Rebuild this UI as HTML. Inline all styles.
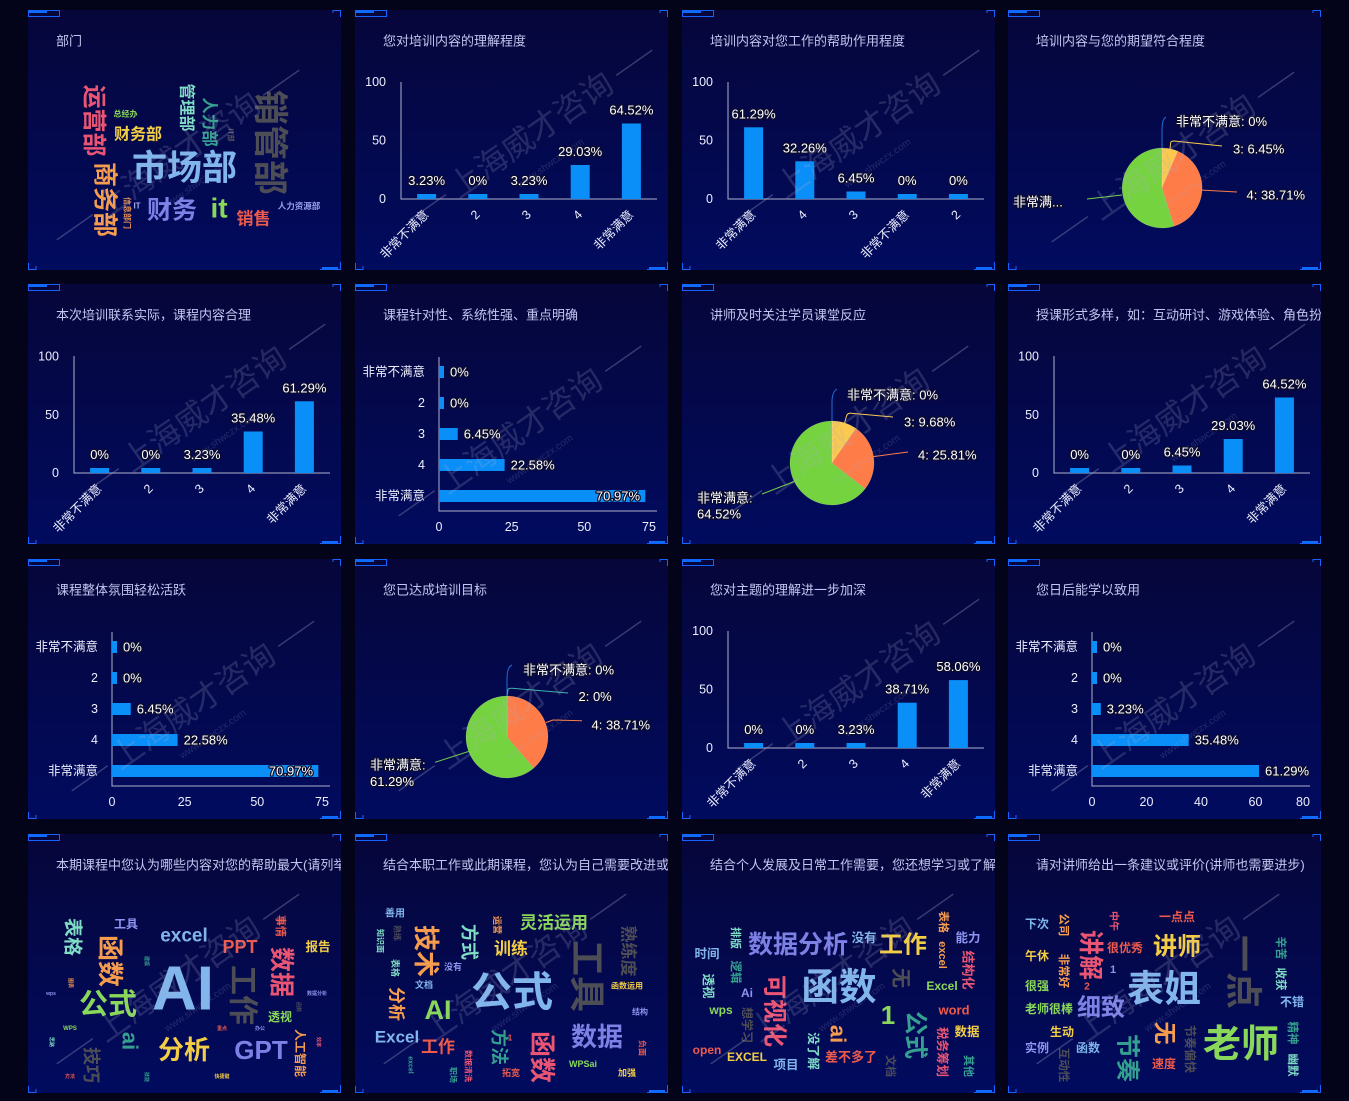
<!DOCTYPE html>
<html><head><meta charset="utf-8"><style>
html,body{margin:0;padding:0;background:#03041a;}
svg{display:block}
text{font-family:"Liberation Sans","Noto Sans CJK SC",sans-serif;}
.t{font-size:13px;fill:#c3c6f0;dominant-baseline:central}
.ax{font-size:12.5px;fill:#eceefc;dominant-baseline:central}
.ae{text-anchor:end}
.am{text-anchor:middle}
.lb{font-size:13px;fill:#fff;stroke:#0c0c2c;stroke-width:2.5px;paint-order:stroke;stroke-linejoin:round;dominant-baseline:central}
.w{font-weight:bold;text-anchor:middle;dominant-baseline:central}
.wm text{fill:rgba(175,175,210,0.2);text-anchor:middle;dominant-baseline:central}
.wm line{stroke:rgba(175,175,210,0.3);stroke-width:1.5}
.bar{fill:#0a8ff8}
.axl{stroke:#aeb2cc;stroke-width:1;fill:none}
.th{fill:none;stroke:#1763ff;stroke-width:1}
.tk{fill:#0b6cff}
</style></head><body>
<svg width="1349" height="1101" viewBox="0 0 1349 1101" xmlns="http://www.w3.org/2000/svg">
<defs>
<linearGradient id="pg" x1="0" y1="0" x2="0" y2="1"><stop offset="0" stop-color="#06063a"/><stop offset="1" stop-color="#010b5f"/></linearGradient>
<clipPath id="c24"><rect x="1008" y="284" width="313" height="260"/></clipPath>
<clipPath id="c41"><rect x="28" y="834" width="313" height="259"/></clipPath>
<clipPath id="c42"><rect x="355" y="834" width="313" height="259"/></clipPath>
<clipPath id="c43"><rect x="682" y="834" width="313" height="259"/></clipPath>
</defs>
<rect width="1349" height="1101" fill="#03041a"/>

<!-- panel backgrounds -->
<g fill="url(#pg)">
<rect x="28" y="10" width="313" height="260"/><rect x="355" y="10" width="313" height="260"/><rect x="682" y="10" width="313" height="260"/><rect x="1008" y="10" width="313" height="260"/>
<rect x="28" y="284" width="313" height="260"/><rect x="355" y="284" width="313" height="260"/><rect x="682" y="284" width="313" height="260"/><rect x="1008" y="284" width="313" height="260"/>
<rect x="28" y="559" width="313" height="260"/><rect x="355" y="559" width="313" height="260"/><rect x="682" y="559" width="313" height="260"/><rect x="1008" y="559" width="313" height="260"/>
<rect x="28" y="834" width="313" height="259"/><rect x="355" y="834" width="313" height="259"/><rect x="682" y="834" width="313" height="259"/><rect x="1008" y="834" width="313" height="259"/>
</g>

<!-- titles -->
<text class="t" x="56" y="41">部门</text>
<text class="t" x="383" y="41">您对培训内容的理解程度</text>
<text class="t" x="710" y="41">培训内容对您工作的帮助作用程度</text>
<text class="t" x="1036" y="41">培训内容与您的期望符合程度</text>
<text class="t" x="56" y="315">本次培训联系实际，课程内容合理</text>
<text class="t" x="383" y="315">课程针对性、系统性强、重点明确</text>
<text class="t" x="710" y="315">讲师及时关注学员课堂反应</text>
<text class="t" x="1036" y="315" clip-path="url(#c24)">授课形式多样，如：互动研讨、游戏体验、角色扮演等</text>
<text class="t" x="56" y="590">课程整体氛围轻松活跃</text>
<text class="t" x="383" y="590">您已达成培训目标</text>
<text class="t" x="710" y="590">您对主题的理解进一步加深</text>
<text class="t" x="1036" y="590">您日后能学以致用</text>
<text class="t" x="56" y="865" clip-path="url(#c41)">本期课程中您认为哪些内容对您的帮助最大(请列举一二)</text>
<text class="t" x="383" y="865" clip-path="url(#c42)">结合本职工作或此期课程，您认为自己需要改进或加强的方面</text>
<text class="t" x="710" y="865" clip-path="url(#c43)">结合个人发展及日常工作需要，您还想学习或了解的内容</text>
<text class="t" x="1036" y="865">请对讲师给出一条建议或评价(讲师也需要进步)</text>

<!-- R1C1 word cloud -->
<text class="w" font-size="24" fill="#ea5573" transform="translate(93.5,120.5) rotate(90)">运营部</text>
<text class="w" font-size="8" fill="#8ad85a" x="125.5" y="114">总经办</text>
<text class="w" font-size="16" fill="#f2cd45" x="138" y="135">财务部</text>
<text class="w" font-size="16" fill="#7fdcc5" transform="translate(186,107.5) rotate(90)">管理部</text>
<text class="w" font-size="16.5" fill="#35a08f" transform="translate(209,122) rotate(90)">人力部</text>
<text class="w" font-size="7" fill="#55555f" transform="translate(230,135) rotate(90)">IT部</text>
<text class="w" font-size="35" fill="#4d4d55" transform="translate(269.5,142.5) rotate(90)">销管部</text>
<text class="w" font-size="35" fill="#80b6ec" x="184.5" y="168.5">市场部</text>
<text class="w" font-size="25" fill="#f59c4e" transform="translate(104.5,199.5) rotate(90)">商务部</text>
<text class="w" font-size="8" fill="#e8904e" transform="translate(127,213) rotate(90)">信息部门</text>
<text class="w" font-size="8" fill="#a8b0f0" x="137" y="206">IT</text>
<text class="w" font-size="25" fill="#7d80e4" x="172" y="210.5">财务</text>
<text class="w" font-size="28" fill="#8ad85a" x="219" y="208">it</text>
<text class="w" font-size="17" fill="#ee5a4c" x="253.5" y="219">销售</text>
<text class="w" font-size="8.5" fill="#9aa0f0" x="299" y="206">人力资源部</text>

<!-- R1C2 vertical bar -->
<path class="axl" d="M401 82V199H657"/>
<text class="ax ae" x="386" y="82">100</text><text class="ax ae" x="386" y="140.5">50</text><text class="ax ae" x="386" y="199">0</text>
<rect class="bar" x="417.1" y="194" width="19" height="5"/><rect class="bar" x="468.3" y="194" width="19" height="5"/><rect class="bar" x="519.5" y="194" width="19" height="5"/><rect class="bar" x="570.7" y="165" width="19" height="34"/><rect class="bar" x="621.9" y="123.5" width="19" height="75.5"/>
<text class="lb am" x="426.6" y="180.5">3.23%</text><text class="lb am" x="477.8" y="180.5">0%</text><text class="lb am" x="529" y="180.5">3.23%</text><text class="lb am" x="580.2" y="151.5">29.03%</text><text class="lb am" x="631.4" y="110">64.52%</text>
<g class="ax ae" font-size="13">
<text class="ax ae" transform="translate(426.6,212.5) rotate(-45)">非常不满意</text><text class="ax ae" transform="translate(477.8,212.5) rotate(-45)">2</text><text class="ax ae" transform="translate(529,212.5) rotate(-45)">3</text><text class="ax ae" transform="translate(580.2,212.5) rotate(-45)">4</text><text class="ax ae" transform="translate(631.4,212.5) rotate(-45)">非常满意</text>
</g>

<!-- R1C3 vertical bar -->
<path class="axl" d="M728 82V199H984"/>
<text class="ax ae" x="713" y="82">100</text><text class="ax ae" x="713" y="140.5">50</text><text class="ax ae" x="713" y="199">0</text>
<rect class="bar" x="744.1" y="127.3" width="19" height="71.7"/><rect class="bar" x="795.3" y="161.3" width="19" height="37.7"/><rect class="bar" x="846.5" y="191.5" width="19" height="7.5"/><rect class="bar" x="897.7" y="194" width="19" height="5"/><rect class="bar" x="948.9" y="194" width="19" height="5"/>
<text class="lb am" x="753.6" y="114">61.29%</text><text class="lb am" x="804.8" y="148">32.26%</text><text class="lb am" x="856" y="178">6.45%</text><text class="lb am" x="907.2" y="180.5">0%</text><text class="lb am" x="958.4" y="180.5">0%</text>
<text class="ax ae" transform="translate(753.6,212.5) rotate(-45)">非常满意</text><text class="ax ae" transform="translate(804.8,212.5) rotate(-45)">4</text><text class="ax ae" transform="translate(856,212.5) rotate(-45)">3</text><text class="ax ae" transform="translate(907.2,212.5) rotate(-45)">非常不满意</text><text class="ax ae" transform="translate(958.4,212.5) rotate(-45)">2</text>

<!-- R1C4 pie -->
<path d="M1162 188L1162 148A40 40 0 0 1 1177.8 151.2Z" fill="#fbc94d" stroke="rgba(255,255,255,0.25)" stroke-width="0.5"/>
<path d="M1162 188L1177.8 151.2A40 40 0 0 1 1174 226.2Z" fill="#fe7c47" stroke="rgba(255,255,255,0.25)" stroke-width="0.5"/>
<path d="M1162 188L1174 226.2A40 40 0 1 1 1162 148Z" fill="#75d33f" stroke="rgba(255,255,255,0.25)" stroke-width="0.5"/>
<path d="M1162 148V130Q1162 119 1166 117" fill="none" stroke="#1f6fd6"/>
<path d="M1170 149L1170.7 142.5Q1171 141 1174 141L1222 146" fill="none" stroke="#fbc94d"/>
<path d="M1200 190L1237 192" fill="none" stroke="#fe7c47"/>
<path d="M1122 195L1087 199" fill="none" stroke="#75d33f"/>
<text class="lb" x="1176" y="121.5">非常不满意: 0%</text>
<text class="lb" x="1233" y="149">3: 6.45%</text>
<text class="lb" x="1246.5" y="195">4: 38.71%</text>
<text class="lb" x="1013" y="202">非常满...</text>

<!-- R2C1 vertical bar -->
<path class="axl" d="M74 356V473H330"/>
<text class="ax ae" x="59" y="356.5">100</text><text class="ax ae" x="59" y="415">50</text><text class="ax ae" x="59" y="473">0</text>
<rect class="bar" x="90.1" y="468" width="19" height="5"/><rect class="bar" x="141.3" y="468" width="19" height="5"/><rect class="bar" x="192.5" y="468" width="19" height="5"/><rect class="bar" x="243.7" y="431.5" width="19" height="41.5"/><rect class="bar" x="294.9" y="401.3" width="19" height="71.7"/>
<text class="lb am" x="99.6" y="454.5">0%</text><text class="lb am" x="150.8" y="454.5">0%</text><text class="lb am" x="202" y="454.5">3.23%</text><text class="lb am" x="253.2" y="418">35.48%</text><text class="lb am" x="304.4" y="388">61.29%</text>
<text class="ax ae" transform="translate(99.6,486.5) rotate(-45)">非常不满意</text><text class="ax ae" transform="translate(150.8,486.5) rotate(-45)">2</text><text class="ax ae" transform="translate(202,486.5) rotate(-45)">3</text><text class="ax ae" transform="translate(253.2,486.5) rotate(-45)">4</text><text class="ax ae" transform="translate(304.4,486.5) rotate(-45)">非常满意</text>

<!-- R2C2 horizontal bar -->
<path class="axl" d="M439 357V511H657"/>
<text class="ax ae" x="425" y="372">非常不满意</text><text class="ax ae" x="425" y="403">2</text><text class="ax ae" x="425" y="434">3</text><text class="ax ae" x="425" y="465">4</text><text class="ax ae" x="425" y="496">非常满意</text>
<rect class="bar" x="439" y="366" width="5" height="12"/><rect class="bar" x="439" y="397" width="5" height="12"/><rect class="bar" x="439" y="428" width="18.75" height="12"/><rect class="bar" x="439" y="459" width="65.6" height="12"/><rect class="bar" x="439" y="490" width="206.3" height="12"/>
<text class="lb" x="450" y="372">0%</text><text class="lb" x="450" y="403">0%</text><text class="lb" x="463.7" y="434">6.45%</text><text class="lb" x="510.6" y="465">22.58%</text><text class="lb ae" x="640" y="496">70.97%</text>
<text class="ax am" x="439" y="527">0</text><text class="ax am" x="511.7" y="527">25</text><text class="ax am" x="584.3" y="527">50</text><text class="ax am" x="649" y="527">75</text>

<!-- R2C3 pie -->
<path d="M832 463L832 421A42 42 0 0 1 856 428.5Z" fill="#fbc94d" stroke="rgba(255,255,255,0.25)" stroke-width="0.5"/>
<path d="M832 463L856 428.5A42 42 0 0 1 865.2 488.7Z" fill="#fe7c47" stroke="rgba(255,255,255,0.25)" stroke-width="0.5"/>
<path d="M832 463L865.2 488.7A42 42 0 1 1 832 421Z" fill="#75d33f" stroke="rgba(255,255,255,0.25)" stroke-width="0.5"/>
<path d="M832 421V402Q832 392 837 389" fill="none" stroke="#1f6fd6"/>
<path d="M844.6 423L846.5 416Q847.5 413 851 413.2L893 417" fill="none" stroke="#fbc94d"/>
<path d="M873.5 456.6L908 452" fill="none" stroke="#fe7c47"/>
<path d="M794.3 481.5L762 494" fill="none" stroke="#75d33f"/>
<text class="lb" x="847" y="395">非常不满意: 0%</text>
<text class="lb" x="904" y="422">3: 9.68%</text>
<text class="lb" x="918" y="455">4: 25.81%</text>
<text class="lb" x="697" y="498">非常满意:</text>
<text class="lb" x="697" y="514">64.52%</text>

<!-- R2C4 vertical bar -->
<path class="axl" d="M1054 356V473H1310"/>
<text class="ax ae" x="1039" y="356.5">100</text><text class="ax ae" x="1039" y="415">50</text><text class="ax ae" x="1039" y="473">0</text>
<rect class="bar" x="1070.1" y="468" width="19" height="5"/><rect class="bar" x="1121.3" y="468" width="19" height="5"/><rect class="bar" x="1172.5" y="465.5" width="19" height="7.5"/><rect class="bar" x="1223.7" y="439" width="19" height="34"/><rect class="bar" x="1274.9" y="397.5" width="19" height="75.5"/>
<text class="lb am" x="1079.6" y="454.5">0%</text><text class="lb am" x="1130.8" y="454.5">0%</text><text class="lb am" x="1182" y="452">6.45%</text><text class="lb am" x="1233.2" y="425.5">29.03%</text><text class="lb am" x="1284.4" y="384">64.52%</text>
<text class="ax ae" transform="translate(1079.6,486.5) rotate(-45)">非常不满意</text><text class="ax ae" transform="translate(1130.8,486.5) rotate(-45)">2</text><text class="ax ae" transform="translate(1182,486.5) rotate(-45)">3</text><text class="ax ae" transform="translate(1233.2,486.5) rotate(-45)">4</text><text class="ax ae" transform="translate(1284.4,486.5) rotate(-45)">非常满意</text>

<!-- R3C1 horizontal bar -->
<path class="axl" d="M112 632V786H330"/>
<text class="ax ae" x="98" y="647">非常不满意</text><text class="ax ae" x="98" y="678">2</text><text class="ax ae" x="98" y="709">3</text><text class="ax ae" x="98" y="740">4</text><text class="ax ae" x="98" y="771">非常满意</text>
<rect class="bar" x="112" y="641" width="5" height="12"/><rect class="bar" x="112" y="672" width="5" height="12"/><rect class="bar" x="112" y="703" width="18.75" height="12"/><rect class="bar" x="112" y="734" width="65.6" height="12"/><rect class="bar" x="112" y="765" width="206.3" height="12"/>
<text class="lb" x="123" y="647">0%</text><text class="lb" x="123" y="678">0%</text><text class="lb" x="136.7" y="709">6.45%</text><text class="lb" x="183.6" y="740">22.58%</text><text class="lb ae" x="313" y="771">70.97%</text>
<text class="ax am" x="112" y="802">0</text><text class="ax am" x="184.7" y="802">25</text><text class="ax am" x="257.3" y="802">50</text><text class="ax am" x="322" y="802">75</text>

<!-- R3C2 pie -->
<path d="M507 737L507 696A41 41 0 0 1 533.7 768.1Z" fill="#fe7c47" stroke="rgba(255,255,255,0.25)" stroke-width="0.5"/>
<path d="M507 737L533.7 768.1A41 41 0 1 1 507 696Z" fill="#75d33f" stroke="rgba(255,255,255,0.25)" stroke-width="0.5"/>
<path d="M507 696V679Q507 667 512 665" fill="none" stroke="#1f6fd6"/>
<path d="M507 696L508 689.5Q508.5 688 512 688.3L568 693" fill="none" stroke="#3bb5b0"/>
<path d="M546 722.5L553 720L582 720.7" fill="none" stroke="#fe7c47"/>
<path d="M468.5 751.5L435 762.3" fill="none" stroke="#75d33f"/>
<text class="lb" x="523" y="670">非常不满意: 0%</text>
<text class="lb" x="578.5" y="696.5">2: 0%</text>
<text class="lb" x="591.5" y="725">4: 38.71%</text>
<text class="lb" x="370" y="765">非常满意:</text>
<text class="lb" x="370" y="781.5">61.29%</text>

<!-- R3C3 vertical bar -->
<path class="axl" d="M728 631V748H984"/>
<text class="ax ae" x="713" y="631">100</text><text class="ax ae" x="713" y="689.5">50</text><text class="ax ae" x="713" y="748">0</text>
<rect class="bar" x="744.1" y="743" width="19" height="5"/><rect class="bar" x="795.3" y="743" width="19" height="5"/><rect class="bar" x="846.5" y="743" width="19" height="5"/><rect class="bar" x="897.7" y="702.7" width="19" height="45.3"/><rect class="bar" x="948.9" y="680.1" width="19" height="67.9"/>
<text class="lb am" x="753.6" y="729.5">0%</text><text class="lb am" x="804.8" y="729.5">0%</text><text class="lb am" x="856" y="729.5">3.23%</text><text class="lb am" x="907.2" y="689">38.71%</text><text class="lb am" x="958.4" y="666.5">58.06%</text>
<text class="ax ae" transform="translate(753.6,761.5) rotate(-45)">非常不满意</text><text class="ax ae" transform="translate(804.8,761.5) rotate(-45)">2</text><text class="ax ae" transform="translate(856,761.5) rotate(-45)">3</text><text class="ax ae" transform="translate(907.2,761.5) rotate(-45)">4</text><text class="ax ae" transform="translate(958.4,761.5) rotate(-45)">非常满意</text>

<!-- R3C4 horizontal bar -->
<path class="axl" d="M1092 632V786H1310"/>
<text class="ax ae" x="1078" y="647">非常不满意</text><text class="ax ae" x="1078" y="678">2</text><text class="ax ae" x="1078" y="709">3</text><text class="ax ae" x="1078" y="740">4</text><text class="ax ae" x="1078" y="771">非常满意</text>
<rect class="bar" x="1092" y="641" width="5" height="12"/><rect class="bar" x="1092" y="672" width="5" height="12"/><rect class="bar" x="1092" y="703" width="8.8" height="12"/><rect class="bar" x="1092" y="734" width="96.7" height="12"/><rect class="bar" x="1092" y="765" width="167" height="12"/>
<text class="lb" x="1103" y="647">0%</text><text class="lb" x="1103" y="678">0%</text><text class="lb" x="1106.8" y="709">3.23%</text><text class="lb" x="1194.7" y="740">35.48%</text><text class="lb" x="1265" y="771">61.29%</text>
<text class="ax am" x="1092" y="802">0</text><text class="ax am" x="1146.5" y="802">20</text><text class="ax am" x="1201" y="802">40</text><text class="ax am" x="1255.5" y="802">60</text><text class="ax am" x="1303" y="802">80</text>

<!-- R4C1 word cloud -->
<g clip-path="url(#c41)">
<text class="w" font-size="19" fill="#7fdcc5" transform="translate(72,937) rotate(90)">表格</text>
<text class="w" font-size="12" fill="#8f94f0" x="126" y="924">工具</text>
<text class="w" font-size="19" fill="#80b6ec" x="184" y="936">excel</text>
<text class="w" font-size="18" fill="#ee5a4c" x="240" y="947">PPT</text>
<text class="w" font-size="26" fill="#f59c4e" transform="translate(110,961) rotate(90)">函数</text>
<text class="w" font-size="62" fill="#80b6ec" x="183" y="989">AI</text>
<text class="w" font-size="30" fill="#4d4d55" transform="translate(242,995) rotate(90)">工作</text>
<text class="w" font-size="25" fill="#ea5573" transform="translate(281,972) rotate(90)">数据</text>
<text class="w" font-size="11" fill="#ee5a4c" transform="translate(280,926) rotate(90)">事情</text>
<text class="w" font-size="12.5" fill="#f2cd45" x="318" y="947">报告</text>
<text class="w" font-size="29" fill="#8ad85a" x="108" y="1005">公式</text>
<text class="w" font-size="12" fill="#8ad85a" x="280" y="1017">透视</text>
<text class="w" font-size="22" fill="#35a08f" transform="translate(130,1041) rotate(90)">ai</text>
<text class="w" font-size="26" fill="#f2cd45" x="184" y="1050">分析</text>
<text class="w" font-size="26" fill="#7d80e4" x="261" y="1050">GPT</text>
<text class="w" font-size="12" fill="#f59c4e" transform="translate(300,1053) rotate(90)">人工智能</text>
<text class="w" font-size="18" fill="#4d4d55" transform="translate(91,1065) rotate(90)">技巧</text>
<text class="w" font-size="5" fill="#8f94f0" x="51" y="994">wps</text>
<text class="w" font-size="6" fill="#8ad85a" x="70" y="1029">WPS</text>
<text class="w" font-size="5" fill="#ee5a4c" x="222" y="1029">重点</text>
<text class="w" font-size="5" fill="#8f94f0" x="260" y="1029">办公</text>
<text class="w" font-size="5" fill="#8f94f0" x="317" y="994">数据分析</text>
<text class="w" font-size="5" fill="#35a08f" transform="translate(146,961) rotate(90)">建模</text>
<text class="w" font-size="5" fill="#f59c4e" transform="translate(70,983) rotate(90)">图表</text>
<text class="w" font-size="5" fill="#7fdcc5" transform="translate(51,1042) rotate(90)">思路</text>
<text class="w" font-size="5" fill="#ea5573" transform="translate(318,1042) rotate(90)">效率</text>
<text class="w" font-size="5" fill="#ee5a4c" x="70" y="1077">方法</text>
<text class="w" font-size="5" fill="#35a08f" transform="translate(146,1077) rotate(90)">技能</text>
<text class="w" font-size="5" fill="#f2cd45" x="222" y="1077">快捷键</text>
<text class="w" font-size="5" fill="#4d4d55" transform="translate(298,1007) rotate(90)">函数</text>
</g>

<!-- R4C2 word cloud -->
<g clip-path="url(#c42)">
<text class="w" font-size="10" fill="#80b6ec" x="395" y="914">善用</text>
<text class="w" font-size="8" fill="#7fdcc5" transform="translate(380,941) rotate(90)">知识面</text>
<text class="w" font-size="8" fill="#4d4d55" transform="translate(397,933) rotate(90)">熟练</text>
<text class="w" font-size="26" fill="#f59c4e" transform="translate(426,951) rotate(90)">技术</text>
<text class="w" font-size="18" fill="#7fdcc5" transform="translate(469,942) rotate(90)">方式</text>
<text class="w" font-size="9" fill="#f59c4e" transform="translate(497,925) rotate(90)">运营</text>
<text class="w" font-size="17" fill="#8ad85a" x="554" y="923">灵活运用</text>
<text class="w" font-size="17" fill="#4d4d55" transform="translate(628,951) rotate(90)">熟练度</text>
<text class="w" font-size="17" fill="#f2cd45" x="511" y="949">训练</text>
<text class="w" font-size="9" fill="#7fdcc5" transform="translate(395,968) rotate(90)">表格</text>
<text class="w" font-size="9" fill="#8f94f0" x="453" y="967">没有</text>
<text class="w" font-size="9" fill="#80b6ec" x="424" y="985">文档</text>
<text class="w" font-size="36" fill="#4d4d55" transform="translate(587,976) rotate(90)">工具</text>
<text class="w" font-size="41" fill="#80b6ec" x="512" y="992">公式</text>
<text class="w" font-size="17" fill="#f59c4e" transform="translate(396,1004) rotate(90)">分析</text>
<text class="w" font-size="8" fill="#f2cd45" x="627" y="986">函数运用</text>
<text class="w" font-size="27" fill="#8ad85a" x="438" y="1010">AI</text>
<text class="w" font-size="8" fill="#8f94f0" x="640" y="1012">结构</text>
<text class="w" font-size="17" fill="#80b6ec" x="397" y="1037">Excel</text>
<text class="w" font-size="17" fill="#ee5a4c" x="438" y="1047">工作</text>
<text class="w" font-size="18" fill="#35a08f" transform="translate(499,1047) rotate(90)">方法</text>
<text class="w" font-size="8" fill="#ee5a4c" x="510" y="1038">1</text>
<text class="w" font-size="26" fill="#7d80e4" x="597" y="1037">数据</text>
<text class="w" font-size="26" fill="#ea5573" transform="translate(542,1057) rotate(90)">函数</text>
<text class="w" font-size="8" fill="#ee5a4c" transform="translate(642,1048) rotate(90)">负面</text>
<text class="w" font-size="7" fill="#35a08f" transform="translate(410,1065) rotate(90)">excel</text>
<text class="w" font-size="8" fill="#ea5573" transform="translate(468,1066) rotate(90)">数据清洗</text>
<text class="w" font-size="8" fill="#35a08f" transform="translate(453,1075) rotate(90)">职场</text>
<text class="w" font-size="9" fill="#ee5a4c" x="511" y="1073">拓宽</text>
<text class="w" font-size="9" fill="#8ad85a" x="583" y="1064">WPSai</text>
<text class="w" font-size="9" fill="#f2cd45" x="627" y="1073">加强</text>
</g>

<!-- R4C3 word cloud -->
<g clip-path="url(#c43)">
<text class="w" font-size="25" fill="#7d80e4" x="798" y="945">数据分析</text>
<text class="w" font-size="12.5" fill="#80b6ec" x="864" y="938">没有</text>
<text class="w" font-size="24" fill="#f2cd45" x="903" y="945">工作</text>
<text class="w" font-size="11" fill="#f59c4e" transform="translate(943,922) rotate(90)">表格</text>
<text class="w" font-size="11" fill="#f59c4e" transform="translate(942,955) rotate(90)">excel</text>
<text class="w" font-size="12.5" fill="#8f94f0" x="968" y="938">能力</text>
<text class="w" font-size="13" fill="#ea5573" transform="translate(968,970) rotate(90)">结构化</text>
<text class="w" font-size="12.5" fill="#80b6ec" x="707" y="954">时间</text>
<text class="w" font-size="11" fill="#7fdcc5" transform="translate(735,938) rotate(90)">排版</text>
<text class="w" font-size="11.5" fill="#35a08f" transform="translate(735,972) rotate(90)">逻辑</text>
<text class="w" font-size="37.5" fill="#80b6ec" x="839" y="987">函数</text>
<text class="w" font-size="24" fill="#ea5573" transform="translate(774,1011) rotate(90)">可视化</text>
<text class="w" font-size="20" fill="#4d4d55" transform="translate(900,978) rotate(90)">无</text>
<text class="w" font-size="12" fill="#8ad85a" x="942" y="986">Excel</text>
<text class="w" font-size="12.5" fill="#7fdcc5" transform="translate(708,986) rotate(90)">透视</text>
<text class="w" font-size="12" fill="#8f94f0" x="747" y="993">Ai</text>
<text class="w" font-size="12" fill="#8ad85a" x="721" y="1010">wps</text>
<text class="w" font-size="12" fill="#4d4d55" transform="translate(747,1025) rotate(90)">想学习</text>
<text class="w" font-size="26" fill="#8ad85a" x="888" y="1015">1</text>
<text class="w" font-size="24" fill="#35a08f" transform="translate(915,1035) rotate(90)">公式</text>
<text class="w" font-size="13" fill="#ee5a4c" x="954" y="1010">word</text>
<text class="w" font-size="12.5" fill="#ea5573" transform="translate(942,1052) rotate(90)">税务筹划</text>
<text class="w" font-size="12.5" fill="#f2cd45" x="967" y="1032">数据</text>
<text class="w" font-size="22" fill="#f59c4e" transform="translate(838,1034) rotate(90)">ai</text>
<text class="w" font-size="12.5" fill="#7fdcc5" transform="translate(813,1051) rotate(90)">没了解</text>
<text class="w" font-size="12" fill="#ee5a4c" x="707" y="1050">open</text>
<text class="w" font-size="12" fill="#f2cd45" x="747" y="1057">EXCEL</text>
<text class="w" font-size="12.5" fill="#80b6ec" x="786" y="1065">项目</text>
<text class="w" font-size="13" fill="#ee5a4c" x="851" y="1057">差不多了</text>
<text class="w" font-size="11" fill="#4d4d55" transform="translate(890,1066) rotate(90)">文档</text>
<text class="w" font-size="11" fill="#35a08f" transform="translate(968,1066) rotate(90)">其他</text>
</g>

<!-- R4C4 word cloud -->
<text class="w" font-size="12" fill="#80b6ec" x="1037" y="924">下次</text>
<text class="w" font-size="11.5" fill="#f59c4e" transform="translate(1063,925) rotate(90)">公司</text>
<text class="w" font-size="10" fill="#ea5573" transform="translate(1113,921) rotate(90)">中午</text>
<text class="w" font-size="12" fill="#ee5a4c" x="1177" y="917">一点点</text>
<text class="w" font-size="25" fill="#ea5573" transform="translate(1090,955) rotate(90)">讲解</text>
<text class="w" font-size="12" fill="#ee5a4c" x="1125" y="948">很优秀</text>
<text class="w" font-size="24" fill="#f2cd45" x="1177" y="947">讲师</text>
<text class="w" font-size="37" fill="#4d4d55" transform="translate(1243,972) rotate(90)">一点</text>
<text class="w" font-size="11.5" fill="#35a08f" transform="translate(1280,948) rotate(90)">辛苦</text>
<text class="w" font-size="12" fill="#f2cd45" x="1037" y="956">午休</text>
<text class="w" font-size="11.5" fill="#f59c4e" transform="translate(1063,971) rotate(90)">非常好</text>
<text class="w" font-size="11" fill="#8f94f0" x="1113" y="970">1</text>
<text class="w" font-size="10" fill="#ee5a4c" x="1087" y="987">2</text>
<text class="w" font-size="37" fill="#80b6ec" x="1164" y="989">表姐</text>
<text class="w" font-size="11.5" fill="#7fdcc5" transform="translate(1280,979) rotate(90)">收获</text>
<text class="w" font-size="12" fill="#8ad85a" x="1037" y="986">很强</text>
<text class="w" font-size="24" fill="#7d80e4" x="1101" y="1008">细致</text>
<text class="w" font-size="12" fill="#80b6ec" x="1292" y="1002">不错</text>
<text class="w" font-size="12" fill="#8ad85a" x="1049" y="1009">老师很棒</text>
<text class="w" font-size="23" fill="#f59c4e" transform="translate(1165,1033) rotate(90)">无</text>
<text class="w" font-size="12" fill="#4d4d55" transform="translate(1190,1049) rotate(90)">节奏偏快</text>
<text class="w" font-size="12" fill="#f2cd45" x="1062" y="1032">生动</text>
<text class="w" font-size="38" fill="#8ad85a" x="1241" y="1045">老师</text>
<text class="w" font-size="11.5" fill="#35a08f" transform="translate(1292,1033) rotate(90)">精神</text>
<text class="w" font-size="24" fill="#35a08f" transform="translate(1127,1058) rotate(90)">节奏</text>
<text class="w" font-size="12" fill="#8f94f0" x="1037" y="1048">实例</text>
<text class="w" font-size="12" fill="#80b6ec" x="1088" y="1048">函数</text>
<text class="w" font-size="11.5" fill="#4d4d55" transform="translate(1063,1065) rotate(90)">互动性</text>
<text class="w" font-size="12" fill="#ee5a4c" x="1164" y="1064">速度</text>
<text class="w" font-size="11.5" fill="#7fdcc5" transform="translate(1292,1065) rotate(90)">幽默</text>

<!-- watermarks -->
<g class="wm">
<g transform="translate(178,155) rotate(-35)"><text font-size="32">上海威才咨询</text><text y="35" font-size="10">www.shwczx.com</text><line x1="-148" x2="-104"/><line x1="104" x2="148"/></g>
<g transform="translate(531,135) rotate(-35)"><text font-size="32">上海威才咨询</text><text y="35" font-size="10">www.shwczx.com</text><line x1="-148" x2="-104"/><line x1="104" x2="148"/></g>
<g transform="translate(858,135) rotate(-35)"><text font-size="32">上海威才咨询</text><text y="35" font-size="10">www.shwczx.com</text><line x1="-148" x2="-104"/><line x1="104" x2="148"/></g>
<g transform="translate(1173,157) rotate(-35)"><text font-size="32">上海威才咨询</text><text y="35" font-size="10">www.shwczx.com</text><line x1="-148" x2="-104"/><line x1="104" x2="148"/></g>
<g transform="translate(204,409) rotate(-35)"><text font-size="32">上海威才咨询</text><text y="35" font-size="10">www.shwczx.com</text><line x1="-148" x2="-104"/><line x1="104" x2="148"/></g>
<g transform="translate(520,431) rotate(-35)"><text font-size="32">上海威才咨询</text><text y="35" font-size="10">www.shwczx.com</text><line x1="-148" x2="-104"/><line x1="104" x2="148"/></g>
<g transform="translate(847,431) rotate(-35)"><text font-size="32">上海威才咨询</text><text y="35" font-size="10">www.shwczx.com</text><line x1="-148" x2="-104"/><line x1="104" x2="148"/></g>
<g transform="translate(1184,409) rotate(-35)"><text font-size="32">上海威才咨询</text><text y="35" font-size="10">www.shwczx.com</text><line x1="-148" x2="-104"/><line x1="104" x2="148"/></g>
<g transform="translate(193,706) rotate(-35)"><text font-size="32">上海威才咨询</text><text y="35" font-size="10">www.shwczx.com</text><line x1="-148" x2="-104"/><line x1="104" x2="148"/></g>
<g transform="translate(520,706) rotate(-35)"><text font-size="32">上海威才咨询</text><text y="35" font-size="10">www.shwczx.com</text><line x1="-148" x2="-104"/><line x1="104" x2="148"/></g>
<g transform="translate(858,684) rotate(-35)"><text font-size="32">上海威才咨询</text><text y="35" font-size="10">www.shwczx.com</text><line x1="-148" x2="-104"/><line x1="104" x2="148"/></g>
<g transform="translate(1173,706) rotate(-35)"><text font-size="32">上海威才咨询</text><text y="35" font-size="10">www.shwczx.com</text><line x1="-148" x2="-104"/><line x1="104" x2="148"/></g>
<g transform="translate(178,979) rotate(-35)"><text font-size="32">上海威才咨询</text><text y="35" font-size="10">www.shwczx.com</text><line x1="-148" x2="-104"/><line x1="104" x2="148"/></g>
<g transform="translate(505,979) rotate(-35)"><text font-size="32">上海威才咨询</text><text y="35" font-size="10">www.shwczx.com</text><line x1="-148" x2="-104"/><line x1="104" x2="148"/></g>
<g transform="translate(832,979) rotate(-35)"><text font-size="32">上海威才咨询</text><text y="35" font-size="10">www.shwczx.com</text><line x1="-148" x2="-104"/><line x1="104" x2="148"/></g>
<g transform="translate(1158,979) rotate(-35)"><text font-size="32">上海威才咨询</text><text y="35" font-size="10">www.shwczx.com</text><line x1="-148" x2="-104"/><line x1="104" x2="148"/></g>
</g>

<!-- corner decorations -->
<g id="corners">
<!-- row1 -->
<rect class="tk" x="28" y="10" width="19" height="3"/><rect class="th" x="28.5" y="10.5" width="31" height="6"/><path class="th" d="M333 13V10.5H340.5V17"/><path class="th" d="M28.5 263V269.5H36V266"/><rect class="tk" x="322" y="267" width="16" height="3"/><path class="th" d="M320 269.5H340.5V262"/>
<rect class="tk" x="355" y="10" width="19" height="3"/><rect class="th" x="355.5" y="10.5" width="31" height="6"/><path class="th" d="M660 13V10.5H667.5V17"/><path class="th" d="M355.5 263V269.5H363V266"/><rect class="tk" x="649" y="267" width="16" height="3"/><path class="th" d="M647 269.5H667.5V262"/>
<rect class="tk" x="682" y="10" width="19" height="3"/><rect class="th" x="682.5" y="10.5" width="31" height="6"/><path class="th" d="M987 13V10.5H994.5V17"/><path class="th" d="M682.5 263V269.5H690V266"/><rect class="tk" x="976" y="267" width="16" height="3"/><path class="th" d="M974 269.5H994.5V262"/>
<rect class="tk" x="1008" y="10" width="19" height="3"/><rect class="th" x="1008.5" y="10.5" width="31" height="6"/><path class="th" d="M1313 13V10.5H1320.5V17"/><path class="th" d="M1008.5 263V269.5H1016V266"/><rect class="tk" x="1302" y="267" width="16" height="3"/><path class="th" d="M1300 269.5H1320.5V262"/>
<!-- row2 -->
<rect class="tk" x="28" y="284" width="19" height="3"/><rect class="th" x="28.5" y="284.5" width="31" height="6"/><path class="th" d="M333 287V284.5H340.5V291"/><path class="th" d="M28.5 537V543.5H36V540"/><rect class="tk" x="322" y="541" width="16" height="3"/><path class="th" d="M320 543.5H340.5V536"/>
<rect class="tk" x="355" y="284" width="19" height="3"/><rect class="th" x="355.5" y="284.5" width="31" height="6"/><path class="th" d="M660 287V284.5H667.5V291"/><path class="th" d="M355.5 537V543.5H363V540"/><rect class="tk" x="649" y="541" width="16" height="3"/><path class="th" d="M647 543.5H667.5V536"/>
<rect class="tk" x="682" y="284" width="19" height="3"/><rect class="th" x="682.5" y="284.5" width="31" height="6"/><path class="th" d="M987 287V284.5H994.5V291"/><path class="th" d="M682.5 537V543.5H690V540"/><rect class="tk" x="976" y="541" width="16" height="3"/><path class="th" d="M974 543.5H994.5V536"/>
<rect class="tk" x="1008" y="284" width="19" height="3"/><rect class="th" x="1008.5" y="284.5" width="31" height="6"/><path class="th" d="M1313 287V284.5H1320.5V291"/><path class="th" d="M1008.5 537V543.5H1016V540"/><rect class="tk" x="1302" y="541" width="16" height="3"/><path class="th" d="M1300 543.5H1320.5V536"/>
<!-- row3 -->
<rect class="tk" x="28" y="559" width="19" height="3"/><rect class="th" x="28.5" y="559.5" width="31" height="6"/><path class="th" d="M333 562V559.5H340.5V566"/><path class="th" d="M28.5 812V818.5H36V815"/><rect class="tk" x="322" y="816" width="16" height="3"/><path class="th" d="M320 818.5H340.5V811"/>
<rect class="tk" x="355" y="559" width="19" height="3"/><rect class="th" x="355.5" y="559.5" width="31" height="6"/><path class="th" d="M660 562V559.5H667.5V566"/><path class="th" d="M355.5 812V818.5H363V815"/><rect class="tk" x="649" y="816" width="16" height="3"/><path class="th" d="M647 818.5H667.5V811"/>
<rect class="tk" x="682" y="559" width="19" height="3"/><rect class="th" x="682.5" y="559.5" width="31" height="6"/><path class="th" d="M987 562V559.5H994.5V566"/><path class="th" d="M682.5 812V818.5H690V815"/><rect class="tk" x="976" y="816" width="16" height="3"/><path class="th" d="M974 818.5H994.5V811"/>
<rect class="tk" x="1008" y="559" width="19" height="3"/><rect class="th" x="1008.5" y="559.5" width="31" height="6"/><path class="th" d="M1313 562V559.5H1320.5V566"/><path class="th" d="M1008.5 812V818.5H1016V815"/><rect class="tk" x="1302" y="816" width="16" height="3"/><path class="th" d="M1300 818.5H1320.5V811"/>
<!-- row4 -->
<rect class="tk" x="28" y="834" width="19" height="3"/><rect class="th" x="28.5" y="834.5" width="31" height="6"/><path class="th" d="M333 837V834.5H340.5V841"/><path class="th" d="M28.5 1086V1092.5H36V1089"/><rect class="tk" x="322" y="1090" width="16" height="3"/><path class="th" d="M320 1092.5H340.5V1085"/>
<rect class="tk" x="355" y="834" width="19" height="3"/><rect class="th" x="355.5" y="834.5" width="31" height="6"/><path class="th" d="M660 837V834.5H667.5V841"/><path class="th" d="M355.5 1086V1092.5H363V1089"/><rect class="tk" x="649" y="1090" width="16" height="3"/><path class="th" d="M647 1092.5H667.5V1085"/>
<rect class="tk" x="682" y="834" width="19" height="3"/><rect class="th" x="682.5" y="834.5" width="31" height="6"/><path class="th" d="M987 837V834.5H994.5V841"/><path class="th" d="M682.5 1086V1092.5H690V1089"/><rect class="tk" x="976" y="1090" width="16" height="3"/><path class="th" d="M974 1092.5H994.5V1085"/>
<rect class="tk" x="1008" y="834" width="19" height="3"/><rect class="th" x="1008.5" y="834.5" width="31" height="6"/><path class="th" d="M1313 837V834.5H1320.5V841"/><path class="th" d="M1008.5 1086V1092.5H1016V1089"/><rect class="tk" x="1302" y="1090" width="16" height="3"/><path class="th" d="M1300 1092.5H1320.5V1085"/>
</g>
</svg>
</body></html>
